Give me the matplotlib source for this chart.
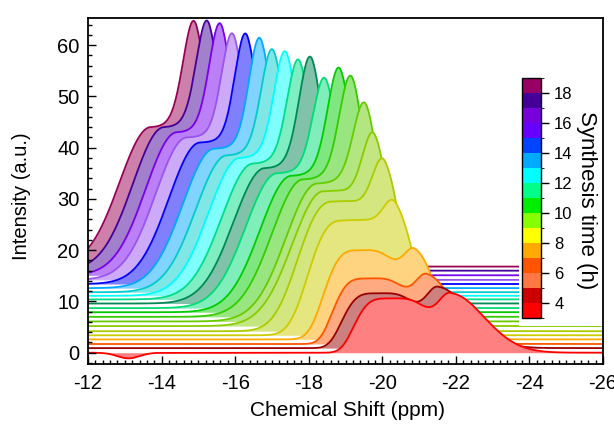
import numpy as np
import matplotlib
matplotlib.use('Agg')
import matplotlib.pyplot as plt
from matplotlib.colors import ListedColormap, BoundaryNorm, to_rgb
from matplotlib.patches import Rectangle
from matplotlib.cm import ScalarMappable
from matplotlib.ticker import MultipleLocator

plt.rcParams['font.family'] = ['Liberation Sans', 'DejaVu Sans']
plt.rcParams['axes.unicode_minus'] = False

# spectra, from the bottom one (3.5 h) to the top one (18.5 h)
offsets = [0.0, 0.9, 1.7, 2.6, 3.4, 4.2, 5.2, 6.1, 7.0, 7.9, 8.7,
           9.6, 10.4, 11.1, 11.8, 12.6, 13.4, 14.2, 15.1, 16.0, 16.8]
peak_ppm = [-21.84, -21.51, -21.21, -20.89, -20.37, -20.07, -19.80, -19.58, -19.20, -18.88, -18.49,
            -18.11, -17.79, -17.43, -17.08, -16.73, -16.35, -15.99, -15.67, -15.32, -14.96]
peak_top = [11.7, 12.9, 15.4, 20.3, 29.2, 37.4, 42.5, 48.1, 53.4, 55.0, 53.0,
            56.9, 56.3, 57.9, 58.3, 60.6, 61.4, 61.4, 63.0, 63.5, 63.5]
shoulder_top = [10.6, 11.6, 14.5, 20.0, 25.8, 29.5, 31.5, 33.0, 33.8, 34.5, 35.0,
                36.0, 36.9, 38.0, 38.5, 39.8, 41.0, 42.0, 43.0, 44.0, 44.0]
shoulder_gap = [1.6, 1.6, 1.55, 1.5, 1.4, 1.4, 1.4, 1.35, 1.35, 1.35, 1.35,
                1.3, 1.3, 1.3, 1.3, 1.3, 1.3, 1.3, 1.25, 1.25, 1.25]
# left edge of the shoulder: width and sharpness
edge_width = [1.1, 1.1, 1.1, 1.1, 1.15, 1.2, 1.2, 1.2, 1.2, 1.2, 1.2,
              1.2, 1.2, 1.2, 1.2, 1.2, 1.2, 1.2, 1.2, 1.2, 1.2]
edge_power = [4, 4, 4, 3.5, 3, 2.5, 2, 2, 2, 2, 2, 2, 2, 2, 2, 2, 2, 2, 2, 2, 2]
rise_width = [0.39, 0.39, 0.38, 0.37, 0.36, 0.35, 0.35, 0.35, 0.35, 0.35, 0.35,
              0.34, 0.34, 0.34, 0.34, 0.33, 0.33, 0.33, 0.33, 0.33, 0.33]
tail_width = [0.92, 0.85, 0.7, 0.55, 0.5, 0.45, 0.42, 0.4, 0.4, 0.4, 0.4,
              0.4, 0.4, 0.4, 0.4, 0.4, 0.4, 0.4, 0.4, 0.4, 0.4]
line_colors = ['#FF0000', '#990000', '#FF5500', '#FFAA00', '#CCCC00', '#AACC00', '#88CC00',
               '#66CC00', '#33CC00', '#00CC00', '#00DD77', '#008855', '#00DD88', '#00FFFF',
               '#00CCCC', '#00AAFF', '#0000FF', '#9955EE', '#7700EE', '#440099', '#990055']

# small negative dip in the first spectrum
dip_ppm, dip_depth = -13.1, -1.1

# colour bar
cbar_bounds = list(range(3, 20))
cbar_colors = ['#FF0000', '#CC0000', '#FF7744', '#FF5500', '#FFAA00', '#FFFF00', '#88FF00', '#00EE00',
               '#00FF88', '#00FFFF', '#00AAFF', '#0044FF', '#6600FF', '#7700DD', '#440099', '#990066']
cbar_ticks = [4, 6, 8, 10, 12, 14, 16, 18]

x = np.linspace(-26.2, -11.8, 1500)


def shoulder(u, i, amp):
    d = u - shoulder_gap[i]
    left = np.exp(-np.abs(d / edge_width[i]) ** edge_power[i])
    right = np.exp(-(d / 1.1) ** 4)
    return amp * np.where(d > 0, left, right)


def spectrum(i):
    u = x - peak_ppm[i]          # >0 : left of the peak on the reversed axis
    b = shoulder_top[i] - offsets[i]
    a = peak_top[i] - offsets[i] - shoulder(np.array(0.0), i, b)
    w = np.where(u > 0, rise_width[i], tail_width[i])
    y = offsets[i] + shoulder(u, i, b) + a * np.exp(-u ** 2 / (2 * w ** 2))
    if i == 0:
        y = y + dip_depth * np.exp(-(x - dip_ppm) ** 2 / (2 * 0.3 ** 2))
    return y


fig = plt.figure(figsize=(6.14, 4.26), dpi=100)
ax = fig.add_axes([88 / 614, 1 - 364 / 426, 515 / 614, 346 / 426])

# top spectrum first, so the lower ones sit in front
z = 2
for i in range(len(offsets) - 1, -1, -1):
    y = spectrum(i)
    pale = 0.5 * np.array(to_rgb(line_colors[i])) + 0.5
    ax.fill_between(x, offsets[i], y, color=pale, lw=0, zorder=z)
    ax.plot(x, y, color=line_colors[i], lw=1.3, zorder=z + 1)
    z += 2

ax.set_xlim(-12, -26)
ax.set_ylim(-2.2, 65.3)
ax.xaxis.set_major_locator(MultipleLocator(2))
ax.xaxis.set_minor_locator(MultipleLocator(0.2))
ax.yaxis.set_major_locator(MultipleLocator(10))
ax.yaxis.set_minor_locator(MultipleLocator(2))
ax.tick_params(which='both', direction='in', top=False, right=False, labelsize=14.5, width=1)
ax.tick_params(which='major', length=6)
ax.tick_params(which='minor', length=3)
ax.tick_params(axis='x', pad=7)
ax.tick_params(axis='y', pad=6)
for s in ax.spines.values():
    s.set_linewidth(1.3)
    s.set_zorder(300)
ax.xaxis.set_zorder(300)
ax.yaxis.set_zorder(300)
fig.text(347 / 614, 1 - 410 / 426, 'Chemical Shift (ppm)', fontsize=15, ha='center', va='center')
fig.text(22 / 614, 1 - 196 / 426, 'Intensity (a.u.)', fontsize=14.5, ha='center', va='center',
         rotation=90)

# white box behind the colour bar
ax.add_patch(Rectangle((0.837, 0.11), 0.163, 0.74, transform=ax.transAxes,
                       facecolor='white', edgecolor='none', zorder=200))

cax = fig.add_axes([522 / 614, 1 - 318 / 426, 19 / 614, 240 / 426])
sm = ScalarMappable(norm=BoundaryNorm(cbar_bounds, len(cbar_colors)), cmap=ListedColormap(cbar_colors))
cb = fig.colorbar(sm, cax=cax, ticks=cbar_ticks)
cb.outline.set_linewidth(1)
cax.tick_params(labelsize=12, length=6, width=1)
fig.text(586 / 614, 1 - 200 / 426, 'Synthesis time (h)', fontsize=16, rotation=270,
         ha='center', va='center')

fig.savefig('out.png', dpi=100)
